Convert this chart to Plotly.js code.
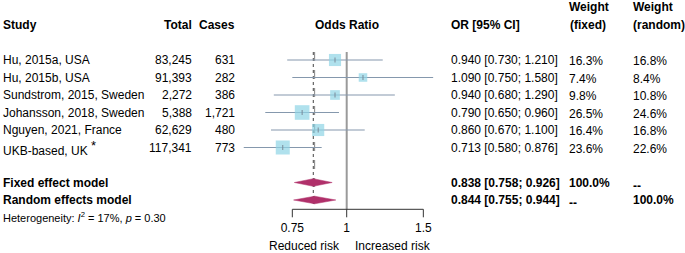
<!DOCTYPE html>
<html>
<head>
<meta charset="utf-8">
<script src="https://cdn.plot.ly/plotly-3.0.1.min.js"></script>
<style>html,body{margin:0;padding:0;background:#fff;}#chart{width:685px;height:253px;}</style>
</head>
<body>
<div id="chart"></div>
<script>
// ---- data ----
const studies = ["Hu, 2015a, USA", "Hu, 2015b, USA", "Sundstrom, 2015, Sweden", "Johansson, 2018, Sweden", "Nguyen, 2021, France", "UKB-based, UK <sup><span style='font-size:13px'>*</span></sup>"];
const totals = ["83,245", "91,393", "2,272", "5,388", "62,629", "117,341"];
const cases = ["631", "282", "386", "1,721", "480", "773"];
const orEst = [0.940, 1.090, 0.940, 0.790, 0.860, 0.713];
const orLo = [0.730, 0.750, 0.680, 0.650, 0.670, 0.580];
const orHi = [1.210, 1.580, 1.290, 0.960, 1.100, 0.876];
const orText = ["0.940 [0.730; 1.210]", "1.090 [0.750; 1.580]", "0.940 [0.680; 1.290]", "0.790 [0.650; 0.960]", "0.860 [0.670; 1.100]", "0.713 [0.580; 0.876]"];
const wFixed = ["16.3%", "7.4%", "9.8%", "26.5%", "16.4%", "23.6%"];
const wRandom = ["16.8%", "8.4%", "10.8%", "24.6%", "16.8%", "22.6%"];
const wRandomNum = [16.8, 8.4, 10.8, 24.6, 16.8, 22.6];
const modelNames = ["Fixed effect model", "Random effects model"];
const modelEst = [0.838, 0.844];
const modelLo = [0.758, 0.755];
const modelHi = [0.926, 0.944];
const modelText = ["0.838 [0.758; 0.926]", "0.844 [0.755; 0.944]"];
const modelWFixed = ["100.0%", "--"];
const modelWRandom = ["--", "100.0%"];
const heterogeneity = "Heterogeneity: <i>I</i><sup>2</sup> = 17%, <i>p</i> = 0.30";
const tickVals = [0.75, 1, 1.5];
const tickLabels = ["0.75", "1", "1.5"];
const sideLabels = ["Reduced risk", "Increased risk"];

// ---- layout helpers ----
const W = 685, H = 253;
const FONT = "Liberation Sans, Arial, Helvetica, sans-serif";
const rowY = i => 60 + 17.5 * i;
const px = p => p / W;
const axisY = 209.3;

const traces = [];
const annotations = [];

function txt(x, y, text, anchor, opts) {
  opts = opts || {};
  annotations.push({
    xref: 'paper', yref: 'y', x: px(x), y: y, text: text, showarrow: false,
    xanchor: anchor, yanchor: 'middle', borderpad: 0,
    font: {family: FONT, size: opts.size || 12, color: '#000', weight: opts.bold ? 'bold' : 'normal'}
  });
}

// reference line at 1
traces.push({x: [1, 1], y: [52, axisY], mode: 'lines', line: {color: '#9a9a9a', width: 2}, hoverinfo: 'skip'});
// random-effects dashed and fixed dotted lines
traces.push({x: [modelEst[1], modelEst[1]], y: [52, rowY(8) + 4], mode: 'lines', line: {color: '#666', width: 0.8, dash: 'dash'}, hoverinfo: 'skip'});
traces.push({x: [modelEst[0], modelEst[0]], y: [52, rowY(8) + 4], mode: 'lines', line: {color: '#444', width: 1, dash: 'dot'}, hoverinfo: 'skip'});

// CI lines
studies.forEach((s, i) => {
  traces.push({x: [orLo[i], orHi[i]], y: [rowY(i), rowY(i)], mode: 'lines', line: {color: '#8598ad', width: 1.1}, hoverinfo: 'skip'});
});
// squares
traces.push({
  x: orEst, y: studies.map((s, i) => rowY(i)), mode: 'markers',
  marker: {symbol: 'square', size: wRandomNum.map(w => 2.95 * Math.sqrt(w)), color: '#8fd4e6', line: {width: 0}},
  hoverinfo: 'skip'
});
// small estimate ticks
studies.forEach((s, i) => {
  traces.push({x: [orEst[i], orEst[i]], y: [rowY(i) - 2.5, rowY(i) + 2.5], mode: 'lines', line: {color: '#7a8a99', width: 1}, hoverinfo: 'skip'});
});
// diamonds
modelNames.forEach((m, k) => {
  const yc = rowY(7 + k);
  traces.push({
    x: [modelLo[k], modelEst[k], modelHi[k], modelEst[k], modelLo[k]],
    y: [yc, yc - 3.8, yc, yc + 3.8, yc],
    mode: 'lines', fill: 'toself', fillcolor: '#b0306a', line: {color: '#b0306a', width: 0.5}, hoverinfo: 'skip'
  });
});
// x axis line and ticks
traces.push({x: [tickVals[0], tickVals[tickVals.length - 1]], y: [axisY, axisY], mode: 'lines', line: {color: '#333', width: 1}, hoverinfo: 'skip'});
tickVals.forEach(v => {
  traces.push({x: [v, v], y: [axisY, axisY + 8], mode: 'lines', line: {color: '#333', width: 1}, hoverinfo: 'skip'});
});
traces.push({x: tickVals, y: tickVals.map(() => 229), mode: 'text', text: tickLabels, textposition: 'middle center',
  textfont: {family: FONT, size: 12, color: '#000'}, hoverinfo: 'skip'});

// ---- text columns ----
const cStudy = 2, cTotal = 193.5, cCases = 236.5, cOR = 449.5, cWF = 567.5, cWR = 632;
txt(cStudy, 24.5, "Study", 'left', {bold: true});
txt(cTotal, 25, "Total", 'right', {bold: true});
txt(cCases, 25, "Cases", 'right', {bold: true});
annotations.push({xref: 'x', yref: 'y', x: 0, y: 25, text: "Odds Ratio", showarrow: false, xanchor: 'center', yanchor: 'middle', borderpad: 0,
  font: {family: FONT, size: 12, color: '#000', weight: 'bold'}});
txt(cOR, 25, "OR [95% CI]", 'left', {bold: true});
txt(cWF, 7, "Weight", 'left', {bold: true});
txt(cWF + 1, 25, "(fixed)", 'left', {bold: true});
txt(cWR, 7, "Weight", 'left', {bold: true});
txt(cWR, 25, "(random)", 'left', {bold: true});

studies.forEach((s, i) => {
  const y = rowY(i);
  txt(cStudy, y, s, 'left');
  txt(cTotal, y, totals[i], 'right');
  txt(cCases, y, cases[i], 'right');
  txt(cOR, y, orText[i], 'left');
  txt(cWF, y + 1, wFixed[i], 'left');
  txt(cWR, y + 1, wRandom[i], 'left');
});
modelNames.forEach((m, k) => {
  const y = rowY(7 + k);
  txt(cStudy, y, m, 'left', {bold: true});
  txt(cOR, y, modelText[k], 'left', {bold: true});
  txt(cWF, modelWFixed[k] === '--' ? y + 3 : y, modelWFixed[k], 'left', {bold: true});
  txt(cWR, modelWRandom[k] === '--' ? y + 3 : y, modelWRandom[k], 'left', {bold: true});
});
txt(cStudy, rowY(9) - 1, heterogeneity, 'left', {size: 11});

// side labels
txt(340.5, 246, sideLabels[0], 'right');
txt(354, 246, sideLabels[1], 'left');

const layout = {
  width: W, height: H,
  margin: {l: 0, r: 0, t: 0, b: 0, pad: 0},
  paper_bgcolor: '#fff', plot_bgcolor: '#fff',
  showlegend: false,
  xaxis: {type: 'log', range: [-0.7966, 0.7773], visible: false, fixedrange: true},
  yaxis: {range: [H, 0], visible: false, fixedrange: true},
  annotations: annotations
};
Plotly.newPlot('chart', traces, layout, {staticPlot: true, displayModeBar: false});
</script>
</body>
</html>
